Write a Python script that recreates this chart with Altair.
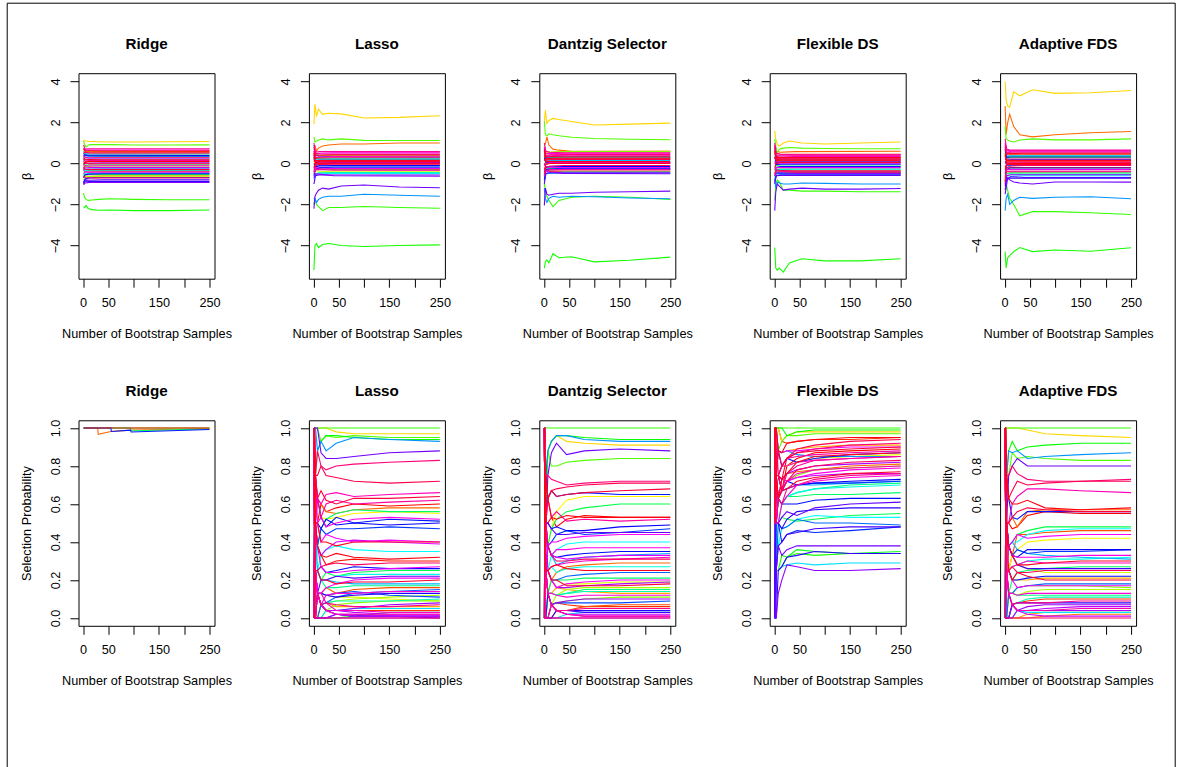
import colorsys

import altair as alt
import pandas as pd

FONT = "Liberation Sans, Arial, Helvetica, sans-serif"
N_VARS = 100  # variables are coloured with rainbow(N_VARS), by variable number

METHODS = ["Ridge", "Lasso", "Dantzig Selector", "Flexible DS", "Adaptive FDS"]

# Bootstrap-sample counts at which the running estimates are recorded
BETA_X = [1, 3, 6, 10, 18, 30, 55, 100, 170, 250]
BAND_X = [1, 4, 12, 40, 250]
SEL_X = [1, 2, 4, 8, 15, 25, 45, 80, 150, 250]
RIDGE_SEL_X = [1, 29, 30, 55, 56, 94, 95, 250]

# ---- running coefficient estimates: [variable, values at BETA_X] ----
ridge_beta_main = [
    [14, 1.15, 1.12, 1.1, 1.08, 1.07, 1.06, 1.05, 1.05, 1.06, 1.07],
    [28, 1.1, 0.95, 0.8, 0.9, 0.92, 0.93, 0.92, 0.9, 0.9, 0.91],
    [30, -1.45, -1.65, -1.75, -1.8, -1.78, -1.75, -1.72, -1.75, -1.77, -1.77],
    [32, -2.1, -2.15, -2.05, -2.2, -2.25, -2.28, -2.27, -2.3, -2.3, -2.27],
]
lasso_beta_main = [
    [14, 1.93, 2.9, 2.3, 2.65, 2.4, 2.45, 2.42, 2.22, 2.25, 2.33],
    [28, 1.3, 1.05, 1.1, 1.15, 1.2, 1.15, 1.2, 1.13, 1.12, 1.12],
    [7, 0.2, 0.9, 0.6, 0.75, 0.85, 0.9, 0.95, 0.95, 1.0, 1.0],
    [74, -2.2, -1.6, -1.45, -1.3, -1.2, -1.25, -1.1, -1.05, -1.15, -1.18],
    [57, -2.0, -1.7, -1.9, -1.75, -1.65, -1.6, -1.6, -1.5, -1.55, -1.6],
    [30, -1.7, -1.8, -2.0, -2.1, -2.3, -2.15, -2.15, -2.1, -2.15, -2.18],
    [32, -5.2, -4.0, -3.9, -4.1, -3.95, -3.9, -4.0, -4.05, -4.0, -3.97],
]
ds_beta_main = [
    [14, 2.0, 2.6, 1.95, 2.1, 2.2, 2.15, 2.05, 1.88, 1.92, 1.97],
    [28, 2.05, 1.4, 1.35, 1.45, 1.4, 1.35, 1.28, 1.22, 1.18, 1.16],
    [7, 0.9, 0.95, 1.3, 0.9, 0.7, 0.65, 0.6, 0.6, 0.6, 0.6],
    [74, -2.05, -1.2, -1.5, -1.55, -1.5, -1.45, -1.45, -1.4, -1.38, -1.35],
    [57, -1.2, -1.7, -1.9, -1.7, -1.6, -1.65, -1.6, -1.62, -1.68, -1.72],
    [30, -1.0, -1.3, -1.6, -1.8, -2.1, -1.8, -1.65, -1.6, -1.65, -1.76],
    [32, -5.1, -4.8, -4.7, -4.85, -4.4, -4.6, -4.55, -4.8, -4.72, -4.57],
]
fds_beta_main = [
    [14, 1.6, 1.2, 0.95, 0.85, 1.0, 1.1, 1.0, 0.95, 1.0, 1.05],
    [28, 1.2, 0.9, 0.5, 0.7, 0.75, 0.78, 0.75, 0.73, 0.72, 0.72],
    [57, -0.8, -1.2, -0.9, -0.95, -1.0, -1.0, -0.95, -0.97, -1.0, -1.0],
    [74, -2.3, -1.4, -1.0, -1.1, -1.3, -1.25, -1.2, -1.25, -1.25, -1.22],
    [30, -1.8, -1.0, -0.8, -0.9, -1.3, -1.3, -1.35, -1.35, -1.38, -1.38],
    [32, -4.1, -5.1, -5.2, -5.1, -5.3, -4.85, -4.65, -4.75, -4.75, -4.65],
]
afds_beta_main = [
    [14, 4.0, 3.1, 2.8, 2.75, 3.5, 3.3, 3.6, 3.42, 3.45, 3.56],
    [7, 2.8, 1.4, 2.0, 2.4, 1.8, 1.4, 1.3, 1.4, 1.5, 1.56],
    [28, 1.8, 1.2, 1.15, 1.1, 1.05, 1.15, 1.2, 1.15, 1.15, 1.2],
    [74, -1.5, -1.2, -0.7, -0.8, -0.9, -0.95, -1.0, -0.9, -0.9, -0.91],
    [57, -2.3, -1.7, -1.5, -2.0, -1.8, -1.65, -1.7, -1.65, -1.62, -1.72],
    [30, -0.8, -1.0, -1.3, -1.7, -2.0, -2.55, -2.35, -2.35, -2.4, -2.49],
    [32, -4.3, -5.1, -4.6, -4.5, -4.3, -4.1, -4.3, -4.22, -4.28, -4.11],
]

# ---- the dense band of small coefficients: [variable, values at BAND_X] ----
ridge_beta_band = [
    [1, 0.55, 0.62, 0.6, 0.58, 0.58], [3, -0.3, -0.4, -0.42, -0.4, -0.41],
    [6, 0.2, 0.3, 0.28, 0.3, 0.3], [9, -0.7, -0.6, -0.62, -0.6, -0.6],
    [11, 0.45, 0.5, 0.48, 0.47, 0.47], [17, 0.1, 0.05, 0.07, 0.08, 0.08],
    [20, 0.65, 0.55, 0.57, 0.56, 0.55], [23, -0.8, -0.62, -0.64, -0.62, -0.62],
    [26, -0.2, -0.15, -0.16, -0.17, -0.17], [35, 0.3, 0.4, 0.38, 0.37, 0.37],
    [38, -0.55, -0.5, -0.52, -0.53, -0.53], [42, 0.0, -0.08, -0.07, -0.06, -0.06],
    [46, -0.45, -0.35, -0.33, -0.34, -0.34], [49, -0.6, -0.5, -0.48, -0.47, -0.47],
    [52, 0.6, 0.48, 0.46, 0.46, 0.46], [55, -0.35, -0.28, -0.27, -0.26, -0.26],
    [58, 0.15, 0.2, 0.22, 0.22, 0.22], [61, 0.5, 0.38, 0.36, 0.36, 0.36],
    [64, -0.95, -0.75, -0.7, -0.68, -0.68], [66, 0.35, 0.42, 0.4, 0.4, 0.39],
    [68, -0.7, -0.55, -0.52, -0.5, -0.5], [70, -1.0, -0.85, -0.88, -0.88, -0.88],
    [72, -0.9, -0.8, -0.82, -0.8, -0.8], [75, -1.05, -0.95, -0.92, -0.93, -0.93],
    [78, 0.1, 0.0, 0.02, 0.03, 0.03], [80, -0.15, -0.22, -0.2, -0.2, -0.2],
    [82, 0.4, 0.3, 0.27, 0.27, 0.27], [84, -0.5, -0.4, -0.42, -0.42, -0.42],
    [86, 0.75, 0.65, 0.66, 0.65, 0.65], [88, 0.2, 0.12, 0.14, 0.14, 0.14],
    [90, -0.3, -0.1, -0.12, -0.11, -0.11], [91, 0.9, 0.7, 0.72, 0.72, 0.72],
    [93, -0.6, -0.68, -0.7, -0.7, -0.7], [94, 0.5, 0.55, 0.52, 0.52, 0.52],
    [95, 0.0, 0.05, -0.02, -0.01, -0.01], [96, -0.2, -0.28, -0.3, -0.3, -0.3],
    [97, 0.3, 0.18, 0.19, 0.18, 0.18], [98, 0.7, 0.6, 0.62, 0.61, 0.61],
    [99, -0.1, 0.08, 0.1, 0.1, 0.1],
]
lasso_beta_band = [
    [2, 0.6, 0.3, 0.25, 0.22, 0.2], [6, -0.4, -0.2, -0.25, -0.3, -0.3],
    [10, 0.3, 0.1, 0.08, 0.07, 0.06], [17, 0.0, 0.15, 0.12, 0.12, 0.12],
    [21, -0.3, -0.35, -0.38, -0.4, -0.4], [25, 0.5, 0.45, 0.4, 0.38, 0.38],
    [36, -0.5, -0.3, -0.28, -0.27, -0.27], [40, 0.2, 0.25, 0.22, 0.2, 0.2],
    [44, -0.7, -0.5, -0.45, -0.44, -0.44], [48, 0.1, 0.2, 0.22, 0.24, 0.25],
    [51, -0.8, -0.55, -0.5, -0.48, -0.48], [54, 0.4, 0.15, 0.18, 0.18, 0.18],
    [60, 0.9, 0.4, 0.35, 0.33, 0.32], [63, -0.2, -0.05, -0.1, -0.12, -0.12],
    [65, -0.6, -0.3, -0.2, -0.18, -0.18], [67, 0.0, -0.15, -0.12, -0.1, -0.1],
    [70, 0.3, 0.1, 0.08, 0.05, 0.05], [73, -1.0, -0.6, -0.55, -0.56, -0.56],
    [76, -0.7, -0.5, -0.52, -0.6, -0.62], [79, 0.2, 0.05, 0.03, 0.02, 0.02],
    [82, -0.4, -0.2, -0.22, -0.25, -0.25], [85, 0.7, 0.45, 0.5, 0.52, 0.52],
    [87, 0.5, 0.3, 0.32, 0.34, 0.35], [89, -0.5, -0.3, -0.3, -0.32, -0.33],
    [90, 1.0, 0.55, 0.58, 0.58, 0.58], [91, 0.2, 0.1, 0.12, 0.12, 0.12],
    [92, 0.8, 0.5, 0.46, 0.45, 0.45], [93, 0.0, 0.0, 0.02, 0.02, 0.02],
    [94, -0.3, -0.1, -0.05, -0.04, -0.04], [95, 0.4, 0.25, 0.28, 0.28, 0.28],
    [96, 0.6, 0.4, 0.4, 0.42, 0.42], [97, -0.2, 0.05, 0.08, 0.09, 0.09],
    [98, 0.1, 0.15, 0.16, 0.15, 0.15], [99, 0.5, 0.0, -0.02, -0.01, -0.01],
    [0, -0.4, -0.25, -0.28, -0.3, -0.3],
]
ds_beta_band = [
    [2, 0.8, 0.35, 0.3, 0.28, 0.28], [6, -0.5, -0.3, -0.32, -0.3, -0.3],
    [10, 0.3, 0.5, 0.55, 0.58, 0.6], [17, 0.0, 0.2, 0.15, 0.14, 0.14],
    [21, -0.2, -0.3, -0.25, -0.22, -0.22], [25, 0.9, 0.6, 0.55, 0.58, 0.58],
    [36, -0.6, -0.3, -0.25, -0.26, -0.26], [40, 0.2, 0.35, 0.3, 0.3, 0.3],
    [44, -0.9, -0.5, -0.45, -0.42, -0.42], [48, 0.1, 0.25, 0.22, 0.2, 0.2],
    [51, -0.7, -0.5, -0.48, -0.45, -0.45], [54, 0.6, 0.1, 0.15, 0.15, 0.15],
    [60, 0.7, 0.3, 0.32, 0.33, 0.33], [63, -0.4, -0.2, -0.22, -0.25, -0.25],
    [65, -0.8, -0.3, -0.3, -0.28, -0.28], [67, 0.0, -0.15, -0.16, -0.15, -0.15],
    [70, 0.3, 0.05, 0.06, 0.05, 0.05], [73, -1.0, -0.5, -0.45, -0.48, -0.5],
    [76, -0.4, -0.4, -0.42, -0.45, -0.45], [79, 0.2, 0.1, 0.05, 0.04, 0.04],
    [82, -0.3, -0.15, -0.18, -0.2, -0.2], [85, 0.8, 0.5, 0.48, 0.5, 0.5],
    [87, 0.5, 0.35, 0.38, 0.4, 0.4], [89, -0.6, -0.35, -0.3, -0.3, -0.3],
    [90, 1.0, 0.6, 0.55, 0.52, 0.52], [91, 0.2, 0.15, 0.18, 0.2, 0.2],
    [92, 0.6, 0.4, 0.42, 0.44, 0.44], [93, -0.1, 0.0, 0.02, 0.03, 0.03],
    [94, -0.5, -0.2, -0.12, -0.1, -0.1], [95, 0.4, 0.25, 0.25, 0.26, 0.26],
    [96, 0.7, 0.35, 0.34, 0.35, 0.35], [97, -0.3, -0.05, 0.0, 0.0, 0.0],
    [98, 0.2, 0.1, 0.1, 0.1, 0.1], [99, 0.6, 0.2, 0.22, 0.22, 0.22],
    [0, -0.6, -0.35, -0.38, -0.38, -0.38],
]
fds_beta_band = [
    [2, 0.8, 0.5, 0.45, 0.45, 0.45], [6, 0.9, 0.6, 0.55, 0.58, 0.6],
    [9, -0.4, -0.3, -0.35, -0.38, -0.38], [17, 0.3, 0.15, 0.12, 0.12, 0.12],
    [21, -0.3, -0.2, -0.22, -0.22, -0.22], [25, 0.6, 0.4, 0.38, 0.38, 0.38],
    [36, -0.6, -0.3, -0.3, -0.32, -0.32], [40, -0.2, -0.1, -0.12, -0.12, -0.12],
    [44, -0.7, -0.4, -0.42, -0.4, -0.4], [48, 0.1, 0.2, 0.22, 0.2, 0.2],
    [51, -0.5, -0.3, -0.28, -0.27, -0.27], [54, 0.4, 0.1, 0.1, 0.1, 0.1],
    [60, -0.9, -0.5, -0.48, -0.5, -0.5], [63, -0.8, -0.6, -0.55, -0.55, -0.55],
    [65, -0.3, -0.2, -0.15, -0.15, -0.15], [67, 0.0, -0.05, -0.04, -0.04, -0.04],
    [70, 0.3, 0.05, 0.07, 0.07, 0.07], [73, -1.0, -0.6, -0.58, -0.58, -0.58],
    [76, -0.6, -0.45, -0.45, -0.48, -0.48], [79, 0.1, 0.0, 0.02, 0.02, 0.02],
    [82, -0.3, -0.2, -0.2, -0.2, -0.2], [85, 0.8, 0.4, 0.4, 0.4, 0.4],
    [87, 0.6, 0.3, 0.32, 0.34, 0.34], [89, -0.6, -0.35, -0.38, -0.4, -0.4],
    [90, 1.0, 0.5, 0.45, 0.42, 0.42], [91, 0.3, 0.2, 0.22, 0.22, 0.22],
    [92, 0.9, 0.35, 0.3, 0.3, 0.3], [93, 0.0, 0.1, 0.12, 0.13, 0.13],
    [94, -0.5, -0.3, -0.35, -0.36, -0.36], [95, 0.5, 0.25, 0.26, 0.26, 0.26],
    [96, 0.7, 0.2, 0.18, 0.18, 0.18], [97, -0.2, 0.0, 0.05, 0.05, 0.05],
    [98, 0.3, 0.15, 0.16, 0.16, 0.16], [99, 0.6, 0.3, 0.28, 0.28, 0.28],
    [0, -0.5, -0.4, -0.42, -0.44, -0.44],
]
afds_beta_band = [
    [2, 0.8, 0.5, 0.48, 0.5, 0.5], [6, -0.8, -0.4, -0.38, -0.38, -0.38],
    [10, 0.3, 0.4, 0.42, 0.42, 0.42], [17, 0.0, 0.1, 0.12, 0.12, 0.12],
    [21, -0.5, -0.3, -0.28, -0.28, -0.28], [25, 0.6, 0.3, 0.3, 0.3, 0.3],
    [36, -0.9, -0.5, -0.45, -0.45, -0.45], [40, 0.4, 0.3, 0.35, 0.35, 0.35],
    [44, -0.8, -0.5, -0.5, -0.52, -0.52], [48, 0.2, 0.25, 0.2, 0.2, 0.2],
    [51, -0.7, -0.6, -0.62, -0.6, -0.6], [54, 0.6, 0.35, 0.38, 0.38, 0.38],
    [60, -0.3, -0.1, -0.1, -0.1, -0.1], [63, -0.5, -0.2, -0.22, -0.22, -0.22],
    [65, 0.7, 0.3, 0.32, 0.32, 0.32], [67, 0.0, 0.15, 0.18, 0.18, 0.18],
    [70, -1.1, -0.7, -0.72, -0.72, -0.72], [72, -1.3, -0.8, -0.65, -0.68, -0.68],
    [76, -1.0, -0.6, -0.55, -0.55, -0.55], [79, 0.1, 0.0, 0.02, 0.02, 0.02],
    [82, -0.4, -0.3, -0.3, -0.3, -0.3], [85, 1.0, 0.65, 0.62, 0.62, 0.62],
    [87, 0.8, 0.55, 0.6, 0.6, 0.6], [89, -0.6, -0.4, -0.4, -0.4, -0.4],
    [90, 1.2, 0.7, 0.65, 0.65, 0.65], [91, 0.3, 0.2, 0.22, 0.22, 0.22],
    [92, 0.9, 0.5, 0.55, 0.55, 0.55], [93, -0.2, 0.0, 0.02, 0.03, 0.03],
    [94, -0.9, -0.2, -0.12, -0.1, -0.1], [95, 0.4, 0.1, 0.08, 0.08, 0.08],
    [96, 0.7, 0.45, 0.46, 0.46, 0.46], [97, -0.3, -0.05, -0.05, -0.05, -0.05],
    [98, 0.2, 0.15, 0.14, 0.14, 0.14], [99, 0.5, 0.05, 0.0, 0.0, 0.0],
    [0, -0.7, -0.3, -0.2, -0.2, -0.2],
]

# ---- running selection probabilities in percent ----
ridge_sel = [  # at RIDGE_SEL_X
    [7, 100, 100, 96.7, 98.2, 98.2, 98.9, 98.9, 99.6],
    [30, 100, 100, 100, 100, 100, 100, 100, 100],
    [40, 100, 100, 100, 100, 100, 100, 98.6, 99.5],
    [65, 100, 100, 100, 100, 98.2, 98.9, 97.9, 99.2],
    [99, 100, 100, 100, 100, 100, 100, 100, 100],
]
lasso_sel = [  # at SEL_X
    [30, 100, 100, 100, 100, 100, 100, 100, 100, 100, 100],
    [14, 100, 100, 100, 100, 100, 100, 98, 97, 97, 97],
    [28, 100, 100, 100, 100, 93, 96, 95, 96, 95, 95],
    [33, 0, 50, 75, 88, 93, 96, 96, 95, 94, 94],
    [57, 100, 100, 100, 88, 93, 88, 92, 95, 94, 93],
    [74, 100, 100, 100, 100, 87, 84, 84, 85, 87, 88],
    [92, 100, 100, 75, 88, 80, 78, 80, 81, 82, 83],
    [95, 0, 50, 75, 75, 80, 75, 74, 72, 71, 72],
    [88, 100, 50, 75, 63, 60, 65, 66, 64, 65, 66],
    [96, 100, 100, 75, 63, 67, 62, 60, 63, 63, 64],
    [90, 0, 0, 50, 63, 53, 60, 62, 60, 61, 62],
    [0, 100, 50, 50, 50, 60, 56, 58, 60, 59, 60],
    [7, 0, 50, 50, 63, 60, 56, 55, 57, 58, 58],
    [16, 100, 100, 75, 63, 53, 52, 53, 55, 56, 55],
    [40, 0, 0, 25, 38, 47, 52, 55, 57, 56, 56],
    [65, 100, 100, 75, 63, 53, 48, 53, 50, 52, 51],
    [67, 0, 50, 50, 50, 47, 52, 49, 50, 49, 50],
    [63, 100, 50, 50, 38, 47, 44, 47, 47, 48, 47],
    [85, 0, 50, 50, 50, 53, 48, 50, 52, 53, 52],
    [83, 100, 100, 75, 50, 40, 44, 42, 40, 41, 40],
    [81, 0, 50, 50, 38, 33, 36, 40, 41, 40, 39],
    [98, 100, 50, 50, 50, 40, 40, 38, 40, 40, 40],
    [50, 0, 0, 25, 25, 33, 36, 38, 36, 35, 35],
    [99, 100, 100, 50, 38, 33, 32, 34, 32, 31, 32],
    [1, 0, 50, 50, 38, 33, 28, 30, 31, 30, 30],
    [94, 100, 50, 25, 25, 27, 28, 29, 28, 29, 29],
    [66, 0, 0, 25, 25, 27, 24, 25, 27, 26, 26],
    [38, 0, 50, 25, 25, 20, 24, 22, 24, 25, 25],
    [48, 100, 50, 25, 25, 20, 20, 22, 23, 23, 23],
    [73, 0, 0, 0, 13, 20, 20, 22, 21, 22, 22],
    [84, 100, 50, 25, 13, 13, 16, 18, 20, 21, 21],
    [97, 0, 0, 25, 25, 20, 20, 18, 19, 19, 20],
    [5, 0, 0, 0, 13, 13, 16, 13, 15, 16, 16],
    [60, 0, 0, 0, 0, 7, 8, 11, 13, 14, 15],
    [86, 100, 50, 25, 13, 7, 12, 13, 13, 14, 14],
    [22, 0, 0, 0, 0, 7, 8, 9, 10, 11, 12],
    [45, 0, 0, 25, 13, 7, 8, 9, 9, 9, 10],
    [77, 100, 50, 25, 13, 7, 4, 4, 5, 7, 8],
    [91, 0, 0, 0, 13, 7, 8, 7, 6, 6, 7],
    [52, 0, 0, 0, 0, 0, 4, 4, 5, 5, 5],
    [80, 100, 50, 25, 13, 7, 4, 2, 1, 1, 1],
    [70, 0, 0, 0, 0, 0, 0, 2, 1, 1, 0],
    [89, 0, 0, 0, 13, 7, 4, 2, 2, 2, 2],
    [34, 0, 0, 0, 0, 0, 0, 0, 1, 3, 3],
    [87, 0, 0, 25, 13, 13, 8, 4, 4, 3, 3],
    [76, 0, 0, 0, 0, 0, 0, 0, 0, 0, 0],
    [93, 0, 0, 0, 0, 0, 0, 0, 0, 0, 0],
    [3, 0, 0, 0, 0, 7, 4, 4, 4, 4, 4],
    [11, 100, 50, 25, 13, 7, 8, 6, 6, 6, 6],
    [19, 0, 50, 25, 13, 13, 12, 11, 11, 10, 9],
    [25, 0, 0, 0, 0, 0, 4, 7, 8, 9, 9],
    [42, 0, 0, 25, 25, 20, 16, 16, 17, 17, 17],
    [55, 100, 50, 50, 25, 20, 20, 19, 18, 18, 18],
    [69, 0, 0, 0, 13, 13, 12, 11, 12, 13, 13],
    [79, 0, 0, 25, 13, 7, 4, 4, 3, 2, 2],
    [82, 100, 50, 50, 38, 27, 24, 24, 25, 26, 27],
    [62, 0, 50, 25, 13, 13, 12, 13, 14, 12, 11],
    [71, 100, 50, 25, 13, 7, 4, 2, 1, 1, 1],
    [78, 0, 0, 0, 0, 0, 0, 2, 2, 1, 1],
]
ds_sel = [
    [30, 100, 100, 100, 100, 100, 100, 100, 100, 100, 100],
    [33, 0, 0, 50, 88, 93, 96, 96, 95, 94, 94],
    [57, 0, 50, 75, 88, 93, 96, 96, 94, 93, 93],
    [14, 0, 50, 75, 88, 93, 96, 93, 92, 91, 91],
    [74, 0, 0, 50, 75, 87, 92, 86, 88, 89, 88],
    [28, 0, 50, 75, 88, 80, 80, 82, 83, 84, 84],
    [92, 100, 100, 75, 75, 73, 72, 70, 71, 72, 72],
    [95, 100, 50, 75, 63, 67, 68, 69, 70, 71, 71],
    [96, 0, 50, 50, 63, 67, 64, 65, 66, 67, 68],
    [65, 100, 100, 75, 63, 67, 64, 65, 66, 65, 65],
    [16, 0, 0, 25, 38, 47, 56, 62, 64, 64, 64],
    [38, 0, 0, 25, 38, 47, 52, 56, 58, 60, 60],
    [99, 100, 50, 75, 63, 53, 52, 54, 53, 53, 53],
    [0, 100, 100, 50, 50, 53, 48, 52, 54, 53, 53],
    [90, 0, 50, 50, 63, 53, 56, 51, 52, 51, 52],
    [67, 100, 50, 50, 50, 47, 48, 46, 46, 48, 49],
    [63, 0, 50, 50, 38, 40, 44, 46, 44, 45, 47],
    [73, 100, 50, 50, 50, 47, 44, 44, 45, 45, 45],
    [83, 0, 0, 25, 38, 40, 40, 42, 43, 44, 44],
    [50, 0, 0, 25, 25, 33, 36, 39, 40, 40, 40],
    [85, 100, 50, 50, 38, 33, 36, 36, 37, 37, 37],
    [66, 0, 0, 25, 38, 33, 32, 33, 34, 35, 35],
    [81, 100, 50, 50, 38, 33, 32, 31, 32, 33, 33],
    [94, 100, 100, 50, 38, 33, 30, 30, 31, 31, 31],
    [7, 0, 0, 0, 13, 20, 24, 27, 28, 29, 29],
    [48, 0, 0, 25, 25, 27, 24, 26, 27, 27, 27],
    [98, 100, 50, 25, 25, 27, 28, 26, 25, 25, 25],
    [60, 0, 50, 25, 25, 20, 20, 22, 23, 24, 24],
    [40, 0, 0, 0, 13, 20, 20, 20, 21, 21, 21],
    [84, 100, 50, 25, 25, 20, 16, 18, 19, 20, 20],
    [97, 100, 50, 25, 25, 20, 20, 17, 17, 17, 18],
    [22, 0, 0, 0, 0, 7, 12, 15, 16, 16, 16],
    [45, 0, 0, 0, 13, 13, 12, 13, 14, 14, 14],
    [86, 0, 0, 25, 13, 13, 12, 11, 12, 12, 12],
    [77, 0, 0, 0, 0, 7, 8, 9, 10, 10, 10],
    [62, 100, 50, 25, 13, 7, 8, 8, 8, 8, 9],
    [5, 0, 0, 0, 0, 0, 4, 4, 6, 7, 7],
    [91, 100, 50, 25, 13, 7, 4, 4, 5, 5, 5],
    [52, 0, 0, 0, 0, 0, 0, 2, 3, 3, 3],
    [80, 100, 50, 25, 13, 7, 4, 2, 1, 1, 1],
    [89, 0, 0, 0, 0, 7, 4, 2, 1, 1, 1],
    [76, 0, 0, 0, 0, 0, 0, 0, 0, 0, 0],
    [93, 0, 0, 0, 0, 0, 0, 0, 0, 0, 0],
    [3, 0, 0, 0, 0, 7, 8, 7, 6, 6, 6],
    [11, 100, 50, 25, 13, 13, 16, 15, 14, 13, 13],
    [19, 0, 50, 25, 25, 20, 16, 18, 18, 19, 19],
    [25, 0, 0, 0, 13, 7, 8, 9, 10, 11, 11],
    [42, 0, 0, 25, 13, 13, 12, 13, 15, 15, 15],
    [55, 100, 50, 50, 38, 33, 28, 30, 32, 33, 34],
    [69, 0, 0, 0, 0, 0, 4, 4, 4, 4, 4],
    [79, 100, 50, 25, 13, 7, 4, 2, 2, 2, 2],
    [87, 0, 0, 25, 25, 27, 28, 29, 30, 31, 32],
    [71, 0, 0, 0, 13, 7, 4, 4, 3, 3, 3],
    [78, 100, 100, 50, 25, 20, 16, 16, 17, 18, 19],
]
fds_sel = [
    [30, 100, 100, 100, 100, 100, 100, 100, 100, 100, 100],
    [33, 100, 100, 100, 100, 100, 96, 98, 99, 99, 99],
    [14, 100, 100, 100, 100, 93, 96, 98, 98, 98, 98],
    [28, 100, 100, 100, 88, 93, 96, 96, 97, 97, 97],
    [99, 100, 100, 100, 88, 87, 92, 93, 94, 95, 95],
    [95, 100, 100, 75, 88, 80, 84, 89, 91, 93, 94],
    [92, 100, 100, 100, 75, 80, 84, 87, 89, 91, 92],
    [96, 100, 50, 75, 75, 73, 84, 87, 88, 89, 90],
    [0, 100, 100, 75, 75, 67, 80, 84, 87, 88, 89],
    [98, 100, 100, 75, 63, 73, 76, 82, 85, 86, 87],
    [90, 100, 100, 75, 75, 67, 76, 80, 83, 84, 85],
    [65, 100, 100, 75, 88, 80, 84, 82, 84, 86, 87],
    [57, 100, 100, 100, 88, 87, 88, 86, 85, 85, 85],
    [94, 100, 50, 75, 75, 67, 72, 78, 80, 82, 83],
    [7, 100, 100, 75, 75, 73, 76, 77, 78, 80, 81],
    [88, 100, 50, 50, 63, 73, 72, 76, 78, 79, 80],
    [85, 100, 100, 75, 63, 67, 72, 74, 76, 78, 79],
    [97, 100, 50, 75, 63, 67, 68, 72, 74, 76, 77],
    [91, 100, 50, 50, 63, 60, 68, 70, 73, 75, 76],
    [86, 100, 100, 50, 50, 60, 64, 70, 72, 74, 75],
    [67, 100, 50, 75, 63, 67, 72, 70, 71, 72, 73],
    [63, 0, 50, 75, 75, 67, 68, 70, 71, 71, 72],
    [48, 100, 50, 50, 50, 60, 64, 66, 68, 69, 70],
    [40, 100, 50, 50, 63, 60, 64, 64, 65, 65, 66],
    [66, 0, 50, 50, 63, 60, 60, 60, 62, 63, 63],
    [73, 0, 50, 50, 50, 53, 56, 54, 58, 60, 61],
    [38, 0, 0, 50, 50, 53, 52, 51, 52, 54, 55],
    [50, 100, 50, 50, 38, 47, 48, 52, 54, 53, 53],
    [60, 0, 0, 25, 50, 47, 48, 52, 50, 50, 49],
    [64, 0, 0, 50, 50, 40, 44, 46, 45, 46, 48],
    [74, 0, 0, 25, 38, 33, 36, 38, 38, 38, 38],
    [35, 0, 0, 25, 25, 27, 32, 36, 35, 34, 35],
    [32, 100, 50, 25, 25, 33, 32, 34, 33, 34, 34],
    [70, 0, 0, 0, 25, 27, 32, 33, 35, 34, 34],
    [52, 0, 0, 25, 25, 27, 28, 29, 28, 29, 29],
    [76, 0, 0, 0, 13, 20, 28, 27, 25, 25, 26],
    [3, 100, 100, 100, 100, 93, 92, 93, 94, 94, 95],
    [11, 100, 100, 75, 88, 87, 88, 89, 90, 91, 91],
    [19, 100, 50, 75, 75, 80, 80, 82, 84, 85, 86],
    [25, 100, 100, 75, 63, 67, 72, 75, 78, 79, 80],
    [42, 100, 50, 50, 63, 60, 64, 66, 68, 70, 71],
    [55, 100, 50, 75, 63, 67, 68, 70, 70, 71, 72],
    [69, 0, 50, 50, 50, 47, 52, 56, 57, 58, 58],
    [79, 100, 50, 50, 63, 67, 72, 74, 75, 76, 76],
    [87, 100, 100, 75, 75, 80, 80, 82, 83, 84, 85],
    [71, 0, 0, 25, 38, 40, 44, 45, 47, 48, 48],
    [78, 100, 50, 75, 75, 73, 76, 78, 80, 81, 82],
    [83, 100, 100, 100, 88, 87, 88, 88, 89, 90, 90],
    [89, 100, 100, 75, 75, 80, 84, 85, 86, 87, 88],
]
afds_sel = [
    [30, 100, 100, 100, 100, 100, 100, 100, 100, 100, 100],
    [14, 100, 100, 100, 100, 100, 100, 99, 97, 96, 95],
    [33, 100, 100, 75, 88, 93, 88, 90, 91, 92, 92],
    [57, 0, 50, 75, 88, 87, 88, 84, 85, 86, 87],
    [28, 100, 100, 75, 75, 87, 84, 85, 84, 83, 83],
    [74, 0, 50, 50, 75, 80, 84, 80, 80, 80, 80],
    [92, 100, 100, 75, 75, 80, 76, 73, 72, 72, 73],
    [95, 100, 50, 75, 63, 67, 72, 70, 71, 72, 72],
    [88, 100, 50, 50, 50, 60, 64, 68, 68, 67, 66],
    [99, 100, 100, 75, 63, 60, 60, 62, 58, 57, 58],
    [7, 100, 100, 50, 50, 53, 48, 56, 57, 57, 57],
    [96, 0, 50, 50, 50, 53, 56, 58, 57, 56, 56],
    [65, 100, 50, 75, 63, 53, 52, 56, 56, 56, 56],
    [0, 100, 50, 50, 50, 47, 48, 54, 56, 55, 55],
    [38, 0, 0, 25, 38, 40, 44, 46, 48, 48, 48],
    [50, 0, 50, 25, 38, 40, 40, 44, 46, 47, 47],
    [5, 0, 0, 25, 25, 33, 44, 44, 45, 46, 46],
    [83, 100, 50, 50, 38, 40, 44, 42, 43, 44, 44],
    [16, 0, 0, 25, 25, 33, 36, 40, 41, 42, 42],
    [67, 100, 50, 50, 38, 33, 32, 36, 36, 36, 36],
    [63, 0, 50, 50, 38, 33, 36, 34, 35, 35, 36],
    [85, 0, 0, 25, 38, 33, 32, 32, 32, 33, 33],
    [48, 0, 0, 25, 25, 27, 28, 30, 31, 31, 32],
    [98, 100, 50, 50, 38, 33, 28, 28, 29, 30, 30],
    [40, 0, 0, 0, 13, 20, 24, 25, 26, 27, 27],
    [94, 100, 50, 25, 25, 27, 24, 24, 25, 25, 25],
    [66, 0, 0, 25, 25, 20, 20, 21, 22, 22, 22],
    [97, 100, 100, 50, 25, 20, 24, 22, 20, 20, 20],
    [60, 0, 0, 0, 13, 13, 16, 17, 18, 18, 18],
    [84, 100, 50, 25, 25, 20, 16, 17, 17, 17, 17],
    [22, 0, 0, 0, 13, 13, 12, 14, 15, 15, 15],
    [86, 100, 50, 25, 13, 13, 12, 13, 13, 13, 13],
    [45, 0, 0, 0, 0, 7, 8, 10, 11, 11, 11],
    [91, 100, 50, 25, 13, 7, 8, 8, 8, 9, 9],
    [77, 0, 0, 0, 0, 7, 4, 6, 7, 7, 7],
    [89, 100, 50, 25, 13, 7, 4, 4, 4, 5, 5],
    [52, 0, 0, 0, 0, 0, 4, 3, 3, 3, 3],
    [8, 0, 0, 0, 0, 0, 0, 0, 1, 2, 2],
    [80, 100, 50, 25, 13, 7, 4, 2, 1, 1, 1],
    [93, 0, 0, 0, 0, 0, 0, 0, 0, 0, 0],
    [3, 0, 0, 0, 0, 7, 8, 9, 10, 10, 10],
    [11, 100, 50, 25, 25, 20, 20, 20, 21, 21, 21],
    [19, 0, 50, 25, 25, 27, 28, 26, 24, 24, 24],
    [25, 0, 0, 0, 13, 13, 16, 17, 17, 17, 16],
    [42, 0, 0, 25, 13, 13, 12, 12, 12, 12, 12],
    [55, 100, 50, 50, 38, 40, 36, 34, 33, 32, 31],
    [69, 0, 0, 0, 0, 7, 8, 8, 8, 8, 8],
    [79, 100, 50, 25, 13, 7, 4, 4, 5, 6, 6],
    [87, 0, 0, 25, 25, 27, 28, 30, 29, 29, 29],
    [71, 100, 100, 50, 38, 33, 28, 26, 26, 26, 26],
    [78, 0, 0, 0, 0, 0, 4, 4, 4, 4, 4],
    [10, 0, 0, 0, 0, 0, 0, 2, 3, 3, 3],
]

BETA_MAIN = [ridge_beta_main, lasso_beta_main, ds_beta_main, fds_beta_main, afds_beta_main]
BETA_BAND = [ridge_beta_band, lasso_beta_band, ds_beta_band, fds_beta_band, afds_beta_band]
SELECTION = [(ridge_sel, RIDGE_SEL_X), (lasso_sel, SEL_X), (ds_sel, SEL_X),
             (fds_sel, SEL_X), (afds_sel, SEL_X)]

# ---- layout (pixels) ----
PANEL_W, PANEL_H = 136, 205.5
X_DOMAIN = [-8.96, 259.96]
BETA_DOMAIN = [-5.62, 4.405]
PROB_DOMAIN = [-0.0408, 1.0408]
TEXT_SIZE = 12.7
TITLE_SIZE = 15.2
TITLE_OFFSET = 24.4


def rainbow(k):
    r, g, b = colorsys.hsv_to_rgb(k / N_VARS, 1.0, 1.0)
    return "#%02x%02x%02x" % (round(r * 255), round(g * 255), round(b * 255))


def long_rows(series, xs, tag, scale=1.0):
    rows = []
    for j, s in enumerate(series):
        var, vals = s[0], s[1:]
        for x, v in zip(xs, vals):
            rows.append({"line": f"{tag}{j}", "var": var, "x": x, "y": v * scale})
    return rows


def frame_df(rows):
    df = pd.DataFrame(rows)
    df["col"] = df["var"].map(rainbow)
    # lower variable numbers are drawn first, later ones on top
    return df.sort_values(["var", "line", "x"], kind="stable").reset_index(drop=True)


def x_axis():
    return alt.Axis(
        values=[0, 50, 100, 150, 200, 250],
        labelExpr="datum.value == 100 || datum.value == 200 ? '' : datum.label",
        title="Number of Bootstrap Samples",
        grid=False, domain=False, tickSize=8.5, tickColor="black", tickWidth=1,
        labelFont=FONT, labelFontSize=TEXT_SIZE, labelColor="black",
        labelPadding=19.7, labelBaseline="alphabetic", labelFlush=False,
        labelOverlap=False,
        titleFont=FONT, titleFontSize=TEXT_SIZE, titleFontWeight="normal",
        titleColor="black", titleY=58.6, titleBaseline="alphabetic",
    )


def y_axis(values, fmt, title):
    return alt.Axis(
        values=values, format=fmt, title=title,
        grid=False, domain=False, tickSize=8.5, tickColor="black", tickWidth=1,
        labelFont=FONT, labelFontSize=TEXT_SIZE, labelColor="black",
        labelAngle=270, labelAlign="center", labelBaseline="alphabetic",
        labelPadding=11, labelFlush=False, labelOverlap=False,
        titleFont=FONT, titleFontSize=TEXT_SIZE, titleFontWeight="normal",
        titleColor="black", titleAngle=270, titleAlign="center",
        titleBaseline="alphabetic", titleX=-48.3, titleY=PANEL_H / 2,
    )


def lines_chart(df, domain, axis):
    return alt.Chart(df).mark_line(strokeWidth=1.1, clip=True).encode(
        x=alt.X("x:Q", scale=alt.Scale(domain=X_DOMAIN, nice=False, zero=False), axis=x_axis()),
        y=alt.Y("y:Q", scale=alt.Scale(domain=domain, nice=False, zero=False), axis=axis),
        color=alt.Color("col:N", scale=None),
        detail=alt.Detail("line:N"),
    )


anchor = pd.DataFrame({"k": [0]})


def heading(text):
    # panel heading, centred over the plot area
    return alt.Chart(anchor).mark_text(
        text=text, font=FONT, fontSize=TITLE_SIZE, fontWeight="bold",
        color="black", align="center", baseline="alphabetic",
    ).encode(x=alt.value(PANEL_W / 2), y=alt.value(-TITLE_OFFSET))


# outer device frame, drawn in the first panel's coordinates
LEFT, RIGHT, TOP, BOTTOM = -71.3, 1096.7, -70.0, 693.8
outer_frame = [
    alt.Chart(anchor).mark_rule(color="black", strokeWidth=1).encode(
        x=alt.value(LEFT), y=alt.value(TOP), y2=alt.value(BOTTOM)),
    alt.Chart(anchor).mark_rule(color="black", strokeWidth=1).encode(
        x=alt.value(RIGHT), y=alt.value(TOP), y2=alt.value(BOTTOM)),
    alt.Chart(anchor).mark_rule(color="black", strokeWidth=1).encode(
        x=alt.value(LEFT), x2=alt.value(RIGHT), y=alt.value(TOP)),
]

top_panels, bottom_panels = [], []
for i, name in enumerate(METHODS):
    beta_rows = long_rows(BETA_MAIN[i], BETA_X, "m") + long_rows(BETA_BAND[i], BAND_X, "b")
    layers = [lines_chart(frame_df(beta_rows), BETA_DOMAIN,
                          y_axis([-4, -2, 0, 2, 4], "d", "β")),
              heading(name)]
    if i == 0:
        layers += outer_frame
    top_panels.append(alt.layer(*layers).properties(width=PANEL_W, height=PANEL_H))

    sel, xs = SELECTION[i]
    sel_rows = long_rows(sel, xs, "s", scale=0.01)
    bottom_panels.append(alt.layer(
        lines_chart(frame_df(sel_rows), PROB_DOMAIN,
                    y_axis([0, 0.2, 0.4, 0.6, 0.8, 1.0], ".1f", "Selection Probability")),
        heading(name),
    ).properties(width=PANEL_W, height=PANEL_H))

chart = alt.concat(
    *(top_panels + bottom_panels), columns=5,
    spacing={"row": 141.1, "column": 94.4}, bounds="flush",
    padding={"left": 5.5, "top": 2.2, "right": 0, "bottom": 0},
).configure_view(stroke="black", strokeWidth=1)

chart.save("out.html", embed_options={"renderer": "svg", "actions": False})
